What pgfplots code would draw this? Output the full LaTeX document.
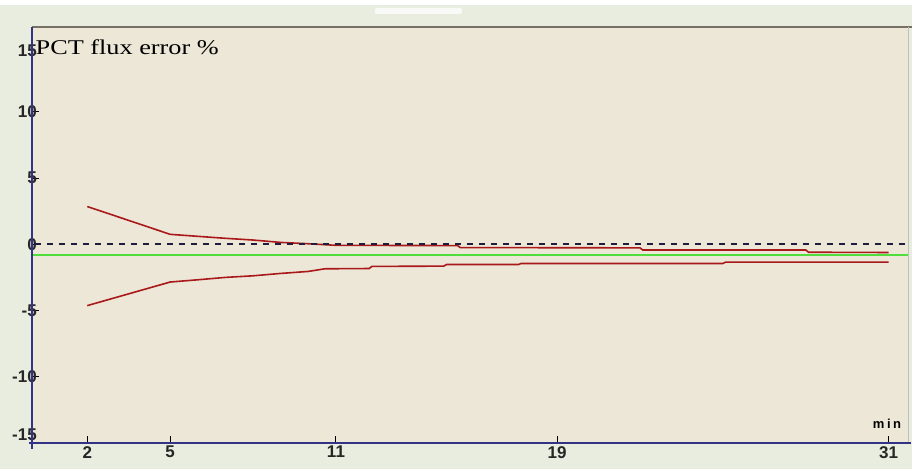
\documentclass[border=0pt]{standalone}
\usepackage{fontspec}
\setmainfont{Liberation Serif}
\setsansfont{Liberation Sans}
\usepackage{graphicx}
\usepackage{pgfplots}
\pgfplotsset{compat=1.18}
\definecolor{plotbg}{RGB}{237,231,216}
\definecolor{outbg}{RGB}{233,237,224}
\definecolor{axblue}{RGB}{50,50,135}
\definecolor{topgray}{RGB}{120,112,100}
\definecolor{redline}{RGB}{170,25,25}
\definecolor{greenline}{RGB}{80,222,60}
\definecolor{dashc}{RGB}{30,30,60}
\begin{document}
\begin{tikzpicture}[x=1pt,y=1pt]
\useasboundingbox (0,0) rectangle (912,469);
\fill[outbg] (0,0) rectangle (912,469);
\fill[white] (0,464) rectangle (912,469);
\fill[white!75!outbg, rounded corners=2pt] (375,455) rectangle (462,461);
\begin{axis}[
  at={(32pt,26pt)}, anchor=south west, scale only axis,
  width=876pt, height=416pt,
  xmin=0, xmax=31.7, ymin=-15, ymax=16.4,
  axis background/.style={fill=plotbg},
  axis line style={draw=none},
  tick pos=left, tick align=inside,
  major tick length=7pt,
  tick style={black, line width=1pt},
  xtick={2,5,11,19,31},
  xticklabels={2,5,11,19,31},
  ytick={-10,-5,0,5,10},
  yticklabels={-10,-5,0,5,10},
  extra y ticks={-14.4,14.6},
  extra y tick labels={-15,15},
  extra y tick style={major tick length=0pt},
  xticklabel style={font=\sffamily\bfseries\fontsize{17}{17}\selectfont, text=black!85, anchor=north, yshift=-3pt, inner sep=0pt},
  yticklabel style={font=\sffamily\bfseries\fontsize{17}{17}\selectfont, text=black!85, anchor=east, xshift=5pt, inner sep=0pt},
  clip=false,
]
\addplot[greenline, line width=2pt] coordinates {(0,-0.8) (31.7,-0.8)};
\addplot[redline, line width=1.6pt] coordinates {
  (2,2.85) (5,0.75) (6,0.6) (7,0.45) (8,0.32) (9,0.14) (10,0.04) (11,-0.08)
  (15.4,-0.1) (15.5,-0.25) (22,-0.27) (22.1,-0.43) (28,-0.43) (28.1,-0.6) (31,-0.62)};
\addplot[redline, line width=1.6pt] coordinates {
  (2,-4.63) (5,-2.85) (6,-2.68) (7,-2.5) (8,-2.38) (9,-2.2) (10,-2.05) (10.6,-1.85)
  (12.2,-1.83) (12.3,-1.67) (14.9,-1.65) (15,-1.53) (17.6,-1.53) (17.7,-1.45)
  (25,-1.45) (25.1,-1.35) (31,-1.35)};
\addplot[dashc, line width=1.8pt, dash pattern=on 6pt off 6pt] coordinates {(0.1,0) (31.6,0)};
\draw[topgray, line width=2pt] (rel axis cs:0,1) -- (rel axis cs:1.005,1);
\draw[black!25, line width=1pt] (rel axis cs:1,1) -- (rel axis cs:1,0);
\draw[axblue, line width=2.5pt] (rel axis cs:0,-0.015) -- (rel axis cs:0,1);
\draw[axblue, line width=2.5pt] (rel axis cs:-0.003,0) -- (rel axis cs:1.003,0);
\node[anchor=west, inner sep=0pt, font=\rmfamily\fontsize{21}{21}\selectfont] at (rel axis cs:0.004,0.952) {\scalebox{1.25}[1]{PCT flux error \%}};
\node[inner sep=0pt, font=\sffamily\bfseries\fontsize{13}{13}\selectfont] at (axis cs:30.94,-13.55) {m\hspace{2.5pt}i\hspace{2.5pt}n};
\end{axis}
\end{tikzpicture}
\end{document}
